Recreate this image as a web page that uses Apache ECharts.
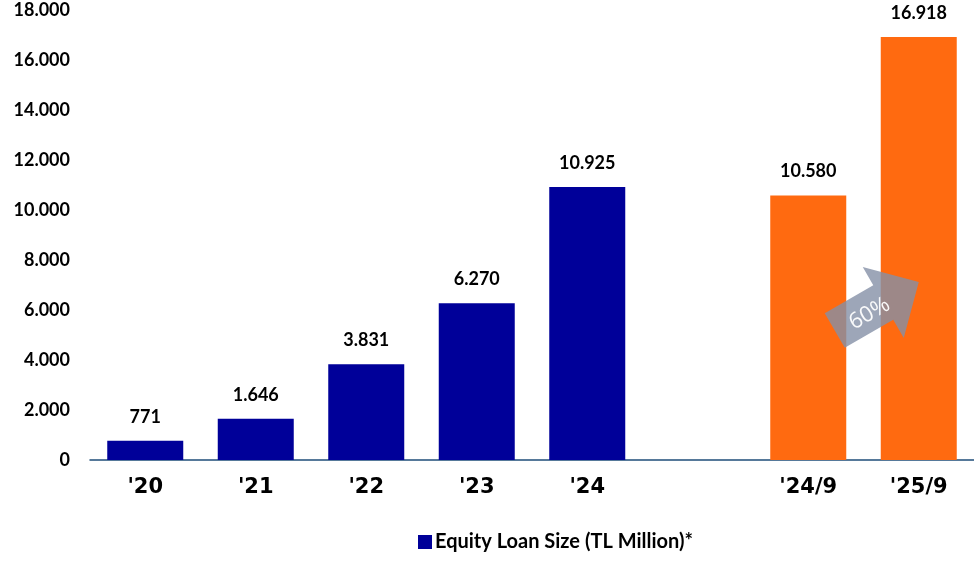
<!DOCTYPE html>
<html><head><meta charset="utf-8">
<script src="https://cdn.jsdelivr.net/npm/echarts@6/dist/echarts.min.js"></script>
<style>html,body{margin:0;padding:0;background:#fff}#c{width:974px;height:562px}</style>
</head><body><div id="c"></div>
<script>
const categories = ["'20", "'21", "'22", "'23", "'24", "", "'24/9", "'25/9"];
const values = [771, 1646, 3831, 6270, 10925, null, 10580, 16918];
const highlighted = ["'24/9", "'25/9"];
const seriesName = "Equity Loan Size (TL Million)*";
const growthLabel = "60%";
const yTicks = {min: 0, max: 18000, interval: 2000};

const BLUE = '#000099', ORANGE = '#FF6A10';
const fmt = v => v == null ? '' : String(Math.round(v)).replace(/\B(?=(\d{3})+(?!\d))/g, '.');
const chart = echarts.init(document.getElementById('c'));
chart.setOption({
  animation: false,
  grid: {left: 90, right: -6, top: 10, bottom: 102, containLabel: false},
  legend: {bottom: 5, left: 413, itemWidth: 14, itemHeight: 14, icon: 'rect', itemGap: 4,
    textStyle: {fontFamily: 'Lato', fontWeight: 'bold', fontSize: 20, color: '#000', padding: [0, 0, 0, -2]},
    data: [seriesName]},
  xAxis: {type: 'category', data: categories,
    axisLine: {lineStyle: {color: '#1F4E79', width: 1.5}}, axisTick: {show: false},
    axisLabel: {fontFamily: 'DejaVu Sans', fontWeight: 'bold', fontSize: 21, color: '#000', margin: 17}},
  yAxis: {type: 'value', min: yTicks.min, max: yTicks.max, interval: yTicks.interval,
    splitLine: {show: false}, axisLine: {show: false}, axisTick: {show: false},
    axisLabel: {formatter: fmt, fontFamily: 'Lato', fontWeight: 'bold', fontSize: 18, color: '#000', margin: 20}},
  series: [{name: seriesName, type: 'bar', barWidth: 76,
    itemStyle: {color: BLUE},
    label: {show: true, position: 'top', distance: 15, formatter: p => fmt(p.value),
      fontFamily: 'Lato', fontWeight: 'bold', fontSize: 18, color: '#000'},
    data: values.map((v, i) => highlighted.includes(categories[i]) ? {value: v, itemStyle: {color: ORANGE}} : v)}]
});

// growth arrow between the two highlighted bars
const i1 = categories.indexOf(highlighted[0]), i2 = categories.indexOf(highlighted[1]);
const p1 = chart.convertToPixel({seriesIndex: 0}, [i1, 0]);
const p2 = chart.convertToPixel({seriesIndex: 0}, [i2, 0]);
const step = p2[0] - p1[0];
const cx = (p1[0] + p2[0]) / 2 + step * 0.12;
const cy = chart.convertToPixel({yAxisIndex: 0}, 6150);
const L = 97, sw = 20, hw = 41, hl = 41;
const pts = [[-L/2, -sw], [L/2 - hl, -sw], [L/2 - hl, -hw], [L/2, 0], [L/2 - hl, hw], [L/2 - hl, sw], [-L/2, sw]];
chart.setOption({graphic: [{
  type: 'group', x: cx, y: cy, rotation: Math.PI * 30 / 180, z: 100,
  children: [
    {type: 'polygon', z: 100, shape: {points: pts}, style: {fill: 'rgba(132,144,166,0.8)'}},
    {type: 'text', z: 101, x: -10, y: 3, style: {text: growthLabel, fill: 'rgba(255,255,255,0.95)', font: '22px "Open Sans"', align: 'center', verticalAlign: 'middle'}}
  ]}]});
</script></body></html>
